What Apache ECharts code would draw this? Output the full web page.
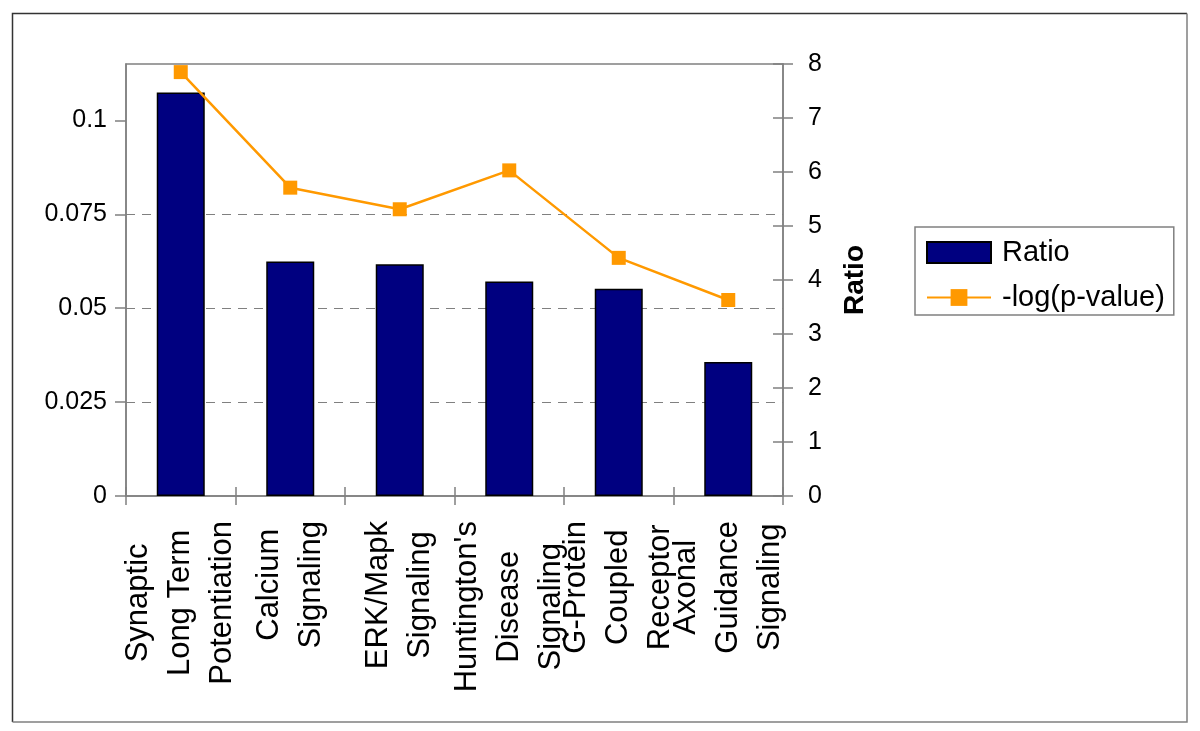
<!DOCTYPE html>
<html>
<head>
<meta charset="utf-8">
<script src="https://cdn.jsdelivr.net/npm/echarts@6/dist/echarts.min.js"></script>
<style>
html,body{margin:0;padding:0;background:#fff;}
#chart{width:1200px;height:731px;}
</style>
</head>
<body>
<div id="chart"></div>
<script>
var categories = [
  "Synaptic\nLong Term\nPotentiation",
  "Calcium\nSignaling",
  "ERK/Mapk\nSignaling",
  "Huntington's\nDisease\nSignaling",
  "G-Protein\nCoupled\nReceptor",
  "Axonal\nGuidance\nSignaling"
];
var ratioValues = [0.1074, 0.0624, 0.0617, 0.0571, 0.0552, 0.0357];
var logPValues = [7.85, 5.71, 5.31, 6.03, 4.41, 3.63];
var leftTicks = [0, 0.025, 0.05, 0.075, 0.1];
var rightTicks = [0, 1, 2, 3, 4, 5, 6, 7, 8];

var FONT = "Liberation Sans";
var chart = echarts.init(document.getElementById('chart'), null, {renderer: 'canvas'});

var option = {
  backgroundColor: '#ffffff',
  animation: false,
  textStyle: {fontFamily: FONT, color: '#000'},
  graphic: [
    {type: 'polyline', shape: {points: [[12.5, 722], [12.5, 13.5], [1187, 13.5]]},
     style: {stroke: '#333', lineWidth: 1.5, fill: null}},
    {type: 'polyline', shape: {points: [[1187, 13.5], [1187, 722], [12.5, 722]]},
     style: {stroke: '#808080', lineWidth: 1.5, fill: null}}
  ],
  grid: {
    left: 126, right: 417, top: 64, bottom: 235,
    show: true, borderColor: '#808080', borderWidth: 1.5,
    containLabel: false
  },
  legend: {
    orient: 'vertical',
    left: 915, top: 227,
    padding: [11, 9, 3, 11],
    borderColor: '#808080', borderWidth: 1.5,
    itemWidth: 64, itemHeight: 21, itemGap: 16,
    textStyle: {fontFamily: FONT, fontSize: 29, color: '#000', padding: [0, 0, 0, 6]},
    data: [{name: 'Ratio', icon: 'rect'}, {name: '-log(p-value)'}]
  },
  xAxis: [
    {
      type: 'category', data: categories, position: 'bottom',
      axisLine: {lineStyle: {color: '#808080', width: 1.5}},
      axisTick: {show: true, alignWithLabel: false, length: 9, lineStyle: {color: '#808080', width: 1.5}},
      axisLabel: {
        interval: 0, rotate: 90, margin: 25,
        formatter: function (v) {
          return v.split('\n').map(function (s) { return '{c|' + s + '}'; }).join('\n');
        },
        rich: {c: {align: 'center', fontFamily: FONT, fontSize: 31, lineHeight: 42, color: '#000'}}
      },
      splitLine: {show: false}
    },
    {
      type: 'category', data: categories, position: 'bottom',
      axisLine: {show: false},
      axisTick: {show: true, inside: true, alignWithLabel: false, length: 9, lineStyle: {color: '#808080', width: 1.5}},
      axisLabel: {show: false},
      splitLine: {show: false}
    }
  ],
  yAxis: [
    {
      type: 'value', position: 'left', min: 0, max: 0.115, interval: 0.025,
      axisLine: {show: true, lineStyle: {color: '#808080', width: 1.5}},
      axisTick: {show: true, length: 11, customValues: leftTicks, lineStyle: {color: '#808080', width: 1.5}},
      axisLabel: {customValues: leftTicks, margin: 19, fontFamily: FONT, fontSize: 25, color: '#000'},
      splitLine: {show: true, showMinLine: false, showMaxLine: false, lineStyle: {color: '#808080', type: [9, 7], width: 1.2}}
    },
    {
      type: 'value', position: 'right', min: 0, max: 8, interval: 1,
      name: 'Ratio', nameLocation: 'middle', nameRotate: 90, nameGap: 58,
      nameTextStyle: {fontFamily: FONT, fontSize: 28, fontWeight: 'bold', color: '#000'},
      axisLine: {show: true, lineStyle: {color: '#808080', width: 1.5}},
      axisTick: {show: true, length: 10, lineStyle: {color: '#808080', width: 1.5}},
      axisLabel: {margin: 25, fontFamily: FONT, fontSize: 25, color: '#000',
        customValues: rightTicks},
      splitLine: {show: false}
    },
    {
      type: 'value', position: 'right', min: 0, max: 8, interval: 1,
      axisLine: {show: false},
      axisTick: {show: true, inside: true, length: 10, lineStyle: {color: '#808080', width: 1.5}},
      axisLabel: {show: false},
      splitLine: {show: false}
    }
  ],
  series: [
    {
      name: 'Ratio', type: 'bar', xAxisIndex: 0, yAxisIndex: 0,
      data: ratioValues, barWidth: 48,
      itemStyle: {color: '#000080', borderColor: '#000', borderWidth: 1.5},
      z: 2
    },
    {
      name: '-log(p-value)', type: 'line', xAxisIndex: 0, yAxisIndex: 1,
      data: logPValues,
      symbol: 'rect', symbolSize: 14,
      lineStyle: {color: '#FF9900', width: 2.5},
      itemStyle: {color: '#FF9900'},
      z: 3
    }
  ]
};
chart.setOption(option);
</script>
</body>
</html>
